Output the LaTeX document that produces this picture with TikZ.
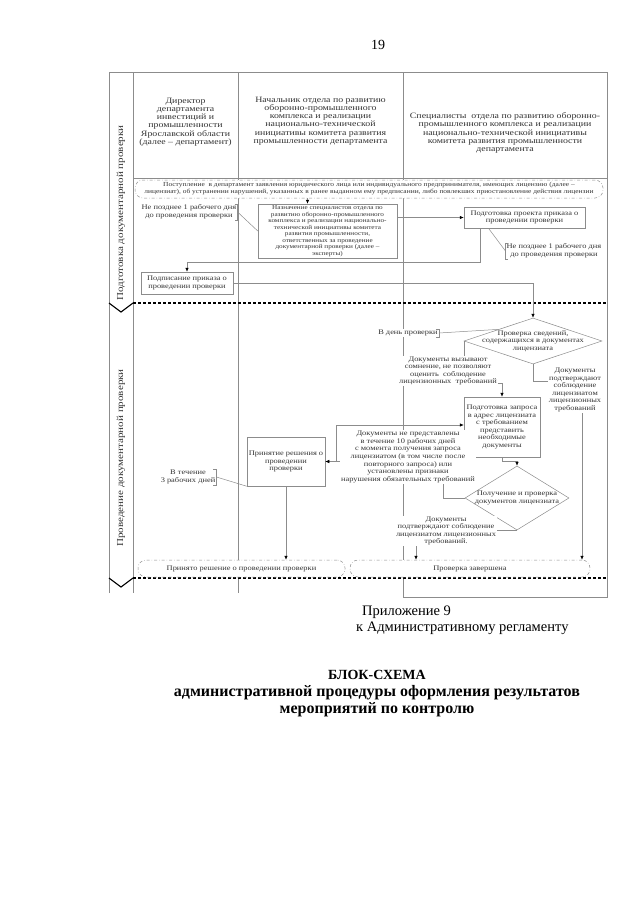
\documentclass[tikz,border=0pt]{standalone}
\usepackage{fontspec}
\setmainfont{Liberation Serif}
\newfontfamily\schemefont[FakeStretch=1.2]{Liberation Serif}
\usepackage{tikz}
\usetikzlibrary{calc,positioning,arrows,arrows.meta,shapes.geometric}
\definecolor{mygray}{gray}{0.55}
\definecolor{inkgray}{gray}{0.2}
\newcommand\schemehdr{\schemefont\fontsize{8.2}{8.2}\selectfont}
\newcommand\schemetxt{\schemefont\fontsize{7}{7.6}\selectfont}
\newcommand\schemetiny{\schemefont\fontsize{6.2}{7}\selectfont}
\newcommand\schemelane{\schemefont\fontsize{9.2}{10}\selectfont}

\begin{document}
\begin{tikzpicture}[x=1pt,y=-1pt]
    \tikzstyle{every node}=[inner sep=0pt,align=center,text=inkgray,font=\schemetxt]
    \tikzstyle{wire}=[draw=mygray,line width=0.5pt]
    \tikzstyle{arr}=[wire,-{Latex[length=4pt,width=3.4pt,color=black]}]
    \tikzstyle{box}=[wire,fill=white,rectangle]
    \tikzstyle{term}=[wire,fill=white,rounded corners=8pt,dash dot]
    \tikzstyle{dia}=[wire,fill=white,diamond]
    \tikzstyle{note}=[fill=white,inner sep=1pt]
    \tikzstyle{lanesep}=[black,line width=1.1pt,dash pattern=on 3pt off 2pt]

    \useasboundingbox (0,0) rectangle (640,905);

    \node[font=\fontsize{14}{16}\selectfont,text=black] (pnum) at (378,45) {19};

    % frame of the lanes
    \draw[wire] (109,593) -- (109,72) -- (607,72) -- (607,597) -- (403,597) -- (403,72);
    \draw[wire] (133,72) -- (133,593);
    \draw[wire] (238,72) -- (238,593);
    \draw[wire] (133,178) -- (607,178);
    \draw[lanesep] (133,303) -- (607,303);
    \draw[lanesep] (133,578) -- (607,578);
    \draw[black,line width=1.1pt] (109,303) -- (121,312) -- (133,303);
    \draw[black,line width=1.1pt] (109,578) -- (121,587) -- (133,578);

    \node[font=\schemelane,rotate=90] (lane1) at (121,213) {Подготовка документарной проверки};
    \node[font=\schemelane,rotate=90] (lane2) at (121,458) {Проведение документарной проверки};

    % heads of the columns
    \node[font=\schemehdr] (hdir) at (185.5,122) {Директор\\департамента\\инвестиций и\\промышленности\\Ярославской области\\(далее – департамент)};
    \node[font=\schemehdr] (hnach) at (320.5,121) {Начальник отдела по развитию\\оборонно-промышленного\\комплекса и реализации\\национально-технической\\инициативы комитета развития\\промышленности департамента};
    \node[font=\schemehdr] (hspec) at (505,133) {Специалисты \ отдела по развитию оборонно-\\промышленного комплекса и реализации\\национально-технической инициативы\\комитета развития промышленности\\департамента};

    % steps
    \node[term,minimum width=468,minimum height=18,font=\schemetiny] (postup) at (369,189) {Поступление \ в департамент заявления юридического лица или индивидуального предпринимателя, имеющих лицензию (далее –\\лицензиат), об устранении нарушений, указанных в ранее выданном ему предписании, либо повлекших приостановление действия лицензии};
    \node[box,minimum width=139,minimum height=54,font=\schemefont\fontsize{6}{6.5}\selectfont] (naznach) at (327.5,231) {Назначение специалистов отдела по\\развитию оборонно-промышленного\\комплекса и реализации национально-\\технической инициативы комитета\\развития промышленности,\\ответственных за проведение\\документарной проверки (далее –\\эксперты)};
    \node[box,minimum width=121,minimum height=21] (podgprik) at (524.5,217.5) {Подготовка проекта приказа о\\проведении проверки};
    \node[box,minimum width=92,minimum height=22] (podpis) at (187,283) {Подписание приказа о\\проведении проверки};
    \node[dia,minimum width=138,minimum height=46] (diam1) at (533,341) {};
    \node (diam1t) at (diam1) {Проверка сведений,\\содержащихся в документах\\лицензиата};
    \node[box,minimum width=76,minimum height=60] (zapros) at (502,427) {Подготовка запроса\\в адрес лицензиата\\с требованием\\представить\\необходимые\\документы};
    \node[dia,minimum width=104,minimum height=64] (diam2) at (517,498) {};
    \node (diam2t) at (diam2) {Получение и проверка\\документов лицензиата};
    \node[box,minimum width=78,minimum height=49] (prinyat) at (286,461.5) {Принятие решения о\\проведении\\проверки};
    \node[term,minimum width=207,minimum height=17] (reshen) at (241.5,568.5) {Принято решение о проведении проверки};
    \node[term,minimum width=240,minimum height=17] (zaversh) at (470,568.5) {Проверка завершена};

    % connectors
    \draw[arr] ([xshift=-20]naznach.north |- postup.south) -- ([xshift=-20]naznach.north);
    \draw[arr] (naznach.east |- podgprik.west) -- (podgprik.west);
    \draw[arr] ([xshift=-44]podgprik.south) -- ++(0,34) -| (podpis.north);
    \draw[arr] (podpis.east) -| (diam1.north);
    \draw[arr] (diam1.west) -- ++(0,42) -| (zapros.north);
    \draw[arr] (diam1.south) -- ++(0,17) -| ([xshift=112]zaversh.north);
    \draw[arr] (zapros.south) -- ++(0,4) -| (diam2.north);
    \draw[arr] (diam2.west) -- ++(-22,0) |- (prinyat.east);
    \draw[arr] ([xshift=11]prinyat.east) |- ([yshift=2]zapros.west);
    \draw[arr] (diam2.south) -| ([xshift=-54]zaversh.north);
    \draw[arr] (prinyat.south) -- (prinyat.south |- reshen.north);

    % texts on the connectors
    \node[note] (somn) at (448,371) {Документы вызывают\\сомнение, не позволяют\\оценить \ соблюдение\\лицензионных \ требований};
    \node[note] (podtv1) at (575,390) {Документы\\подтверждают\\соблюдение\\лицензиатом\\лицензионных\\требований};
    \node[note,font=\schemefont\fontsize{7}{7.7}\selectfont] (nepred) at (408,457) {Документы не представлены\\в течение 10 рабочих дней\\с момента получения запроса\\лицензиатом (в том числе после\\повторного запроса) или\\установлены признаки\\нарушения обязательных требований};
    \node[note] (podtv2) at (446,531) {Документы\\подтверждают соблюдение\\лицензиатом лицензионных\\требований.};

    % terms with brackets
    \node[note] (srok1) at (189,212) {Не позднее 1 рабочего дня\\до проведения проверки};
    \draw[wire] ([xshift=-3]srok1.north east) -- (srok1.north east) -- (srok1.south east) -- ++(-3,0);
    \draw[wire] (srok1.east) -- (naznach.west);

    \node[note] (srok2) at (554,251) {Не позднее 1 рабочего дня\\до проведения проверки};
    \draw[wire] ([xshift=3]srok2.north west) -- (srok2.north west) -- (srok2.south west) -- ++(3,0);
    \draw[wire] (srok2.west) -- ([xshift=-36]podgprik.south);

    \node[note] (vden) at (408,333) {В день проверки};
    \draw[wire] ([xshift=-3]vden.north east) -- (vden.north east) -- (vden.south east) -- ++(-3,0);
    \draw[wire] (vden.east) -- ($(diam1.west)!0.5!(diam1.north)$);

    \node[note] (vtech) at (188,477) {В течение\\3 рабочих дней};
    \draw[wire] ([xshift=-3]vtech.north east) -- (vtech.north east) -- (vtech.south east) -- ++(-3,0);
    \draw[wire] (vtech.east) -- (prinyat.south west);

    % under the scheme
    \node[anchor=west,font=\fontsize{14.5}{16}\selectfont,text=black] (pril) at (362,612) {Приложение 9};
    \node[anchor=west,font=\fontsize{14.5}{16}\selectfont,text=black] (prilreg) at (356,628) {к Административному регламенту};
    \node[font=\bfseries\fontsize{14}{17}\selectfont,text=black] (title) at (377,694) {БЛОК-СХЕМА\\\fontsize{16}{17}\selectfont административной процедуры оформления результатов\\\fontsize{16}{17}\selectfont мероприятий по контролю};
\end{tikzpicture}
\end{document}
